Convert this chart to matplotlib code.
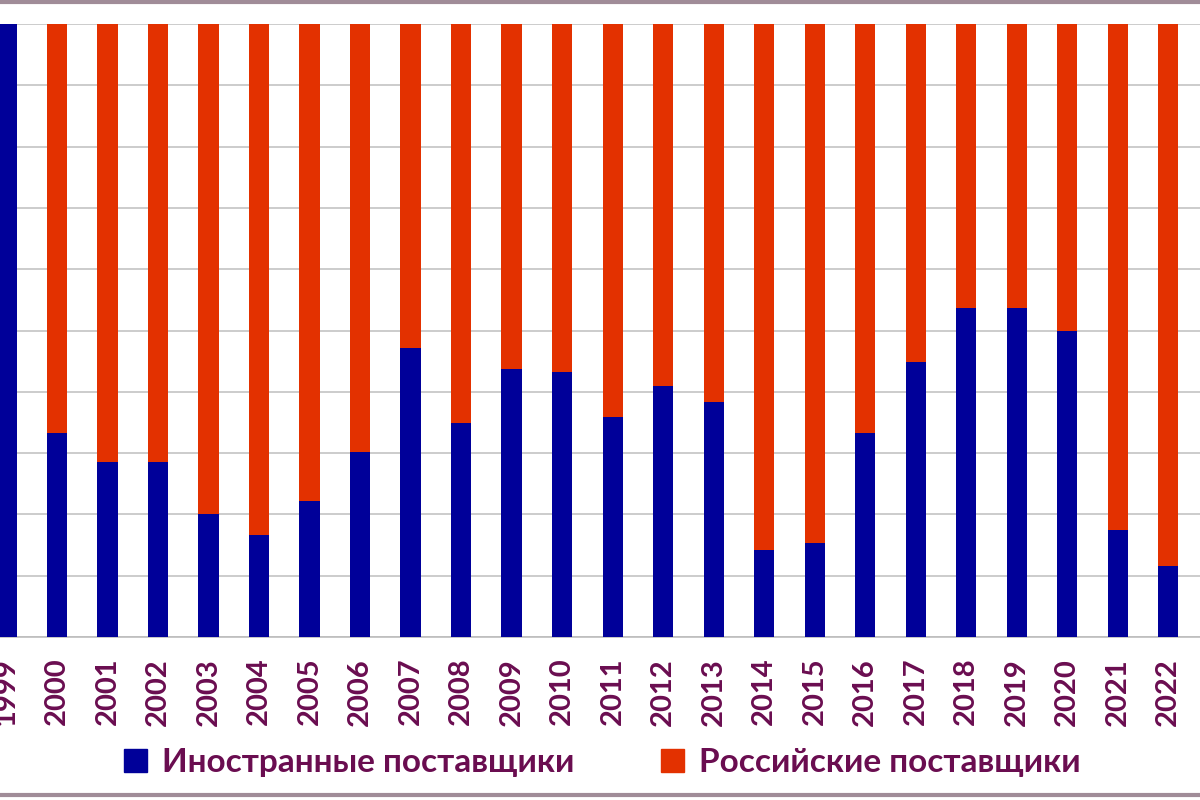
import matplotlib.pyplot as plt
from matplotlib.patches import Patch
from matplotlib.lines import Line2D

# доли поставщиков, % (чтение с картинки)
years = ['1999', '2000', '2001', '2002', '2003', '2004', '2005', '2006',
         '2007', '2008', '2009', '2010', '2011', '2012', '2013', '2014',
         '2015', '2016', '2017', '2018', '2019', '2020', '2021', '2022']
inostrannye = [100.0, 33.3, 28.5, 28.5, 20.1, 16.6, 22.2, 30.2,
               47.1, 34.9, 43.7, 43.2, 35.9, 40.9, 38.3, 14.2,
               15.3, 33.3, 44.9, 53.7, 53.7, 49.9, 17.5, 11.6]
rossiyskie = [0.0, 66.7, 71.5, 71.5, 79.9, 83.4, 77.8, 69.8,
              52.9, 65.1, 56.3, 56.8, 64.1, 59.1, 61.7, 85.8,
              84.7, 66.7, 55.1, 46.3, 46.3, 50.1, 82.5, 88.4]

blue = '#000099'
red = '#E33100'
txt = '#6a0d50'

plt.rcParams['font.family'] = ['Lato', 'DejaVu Sans']

fig = plt.figure(figsize=(12, 8), dpi=100)
ax = fig.add_axes([0, 163 / 800, 1, 613 / 800])

x = list(range(len(years)))
ax.bar(x, inostrannye, width=0.4, color=blue, zorder=3)
ax.bar(x, rossiyskie, width=0.4, bottom=inostrannye, color=red, zorder=3)

ax.set_xlim(-0.129, 23.63)
ax.set_ylim(0, 100)
ax.set_yticks(range(0, 101, 10))
ax.yaxis.grid(True, color='#c4c4c4', linewidth=1.2, zorder=0)
ax.set_yticklabels([])
ax.tick_params(axis='y', length=0)

ax.set_xticks(x)
ax.set_xticklabels(years, rotation=90, fontsize=21, fontweight='bold', color=txt)
ax.tick_params(axis='x', length=0, pad=15)

for s in ['top', 'left', 'right']:
    ax.spines[s].set_visible(False)
ax.spines['bottom'].set_color('#bdbdbd')
ax.spines['bottom'].set_linewidth(1.2)

handles = [Patch(color=blue), Patch(color=red)]
fig.legend(handles, ['Иностранные поставщики', 'Российские поставщики'],
           loc='center', bbox_to_anchor=(0.502, 0.047), ncol=2, frameon=False,
           prop={'size': 24, 'weight': 'bold'}, labelcolor=txt,
           handlelength=0.7, handleheight=0.7, handletextpad=0.45, columnspacing=2.6)

# рамка сверху и снизу
fig.add_artist(Line2D([0, 1], [0.998, 0.998], color='#a08c98', linewidth=3, transform=fig.transFigure))
fig.add_artist(Line2D([0, 1], [0.006, 0.006], color='#a08c98', linewidth=3, transform=fig.transFigure))

fig.savefig('out.png', dpi=100)
